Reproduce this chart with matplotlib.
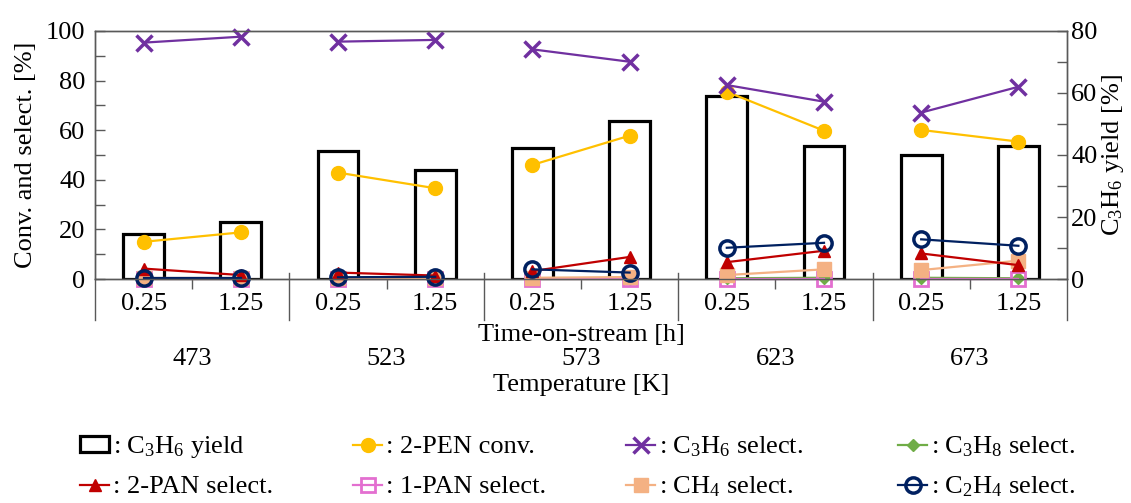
import numpy as np
import matplotlib
matplotlib.use("Agg")
import matplotlib.pyplot as plt
import matplotlib.transforms as mtransforms
from matplotlib.lines import Line2D
from matplotlib.patches import Rectangle

plt.rcParams['font.family'] = ['Liberation Serif', 'DejaVu Serif']
plt.rcParams['mathtext.fontset'] = 'custom'
plt.rcParams['mathtext.rm'] = 'Liberation Serif'
plt.rcParams['mathtext.default'] = 'rm'

# ---- data ----
temps = ["473", "523", "573", "623", "673"]
tos = ["0.25", "1.25"]
c3h6_yield = [14.5, 18.4, 41.4, 35.3, 42.4, 51.0, 59.1, 42.9, 40.1, 43.0]
pen_conv = [15.0, 18.8, 42.9, 36.6, 46.0, 57.8, 75.5, 59.8, 60.1, 55.4]
c3h6_sel = [95.3, 97.7, 95.7, 96.4, 92.6, 87.6, 78.2, 71.5, 67.1, 77.5]
c3h8_sel = [0.0, 0.0, 0.0, 0.0, 0.0, 0.0, 0.3, 0.5, 0.5, 0.3]
pan2_sel = [4.2, 1.6, 2.6, 1.4, 3.2, 8.9, 6.8, 11.4, 10.3, 5.6]
pan1_sel = [0.0, 0.0, 0.0, 0.0, 0.0, 0.0, 0.0, 0.0, 0.0, 0.0]
ch4_sel = [0.3, 0.3, 0.3, 0.3, 0.5, 0.8, 1.6, 3.9, 3.6, 7.4]
c2h4_sel = [0.3, 0.3, 0.7, 0.9, 3.9, 2.6, 12.6, 14.6, 16.0, 13.4]

FS = 19
SPINE = '#595959'

fig = plt.figure(figsize=(11.31, 5.03), dpi=100)
ax = fig.add_axes([0.084, 0.4453, 0.8594, 0.4931])
ax2 = ax.twinx()
ax.set_zorder(ax2.get_zorder() + 1)
ax.patch.set_visible(False)

n = len(temps) * len(tos)
x = np.arange(n)
xlabels = [t for _ in temps for t in tos]

# bars on right axis
ax2.bar(x, c3h6_yield, width=0.42, facecolor='white', edgecolor='black', linewidth=2.3, zorder=2)
ax2.set_ylim(0, 80)
ax.set_ylim(0, 100)
ax.set_xlim(-0.5, n - 0.5)

series = [
    (pen_conv, dict(color='#FFC000', marker='o', ms=10, mfc='#FFC000', mec='#FFC000', lw=1.6), ': 2-PEN conv.'),
    (c3h6_sel, dict(color='#7030A0', marker='x', ms=12, mew=2.5, lw=1.6), ': C$_3$H$_6$ select.'),
    (c3h8_sel, dict(color='#70AD47', marker='D', ms=6, lw=1.6), ': C$_3$H$_8$ select.'),
    (pan1_sel, dict(color='#E36FD0', marker='s', ms=10, mfc='none', mew=2, lw=1.6), ': 1-PAN select.'),
    (ch4_sel, dict(color='#F4B183', marker='s', ms=10, lw=1.6), ': CH$_4$ select.'),
    (pan2_sel, dict(color='#C00000', marker='^', ms=9, lw=1.6), ': 2-PAN select.'),
    (c2h4_sel, dict(color='#002060', marker='o', ms=11, mfc='none', mew=2.5, lw=1.6), ': C$_2$H$_4$ select.'),
]
handles = {}
for vals, st, lab in series:
    for g in range(len(temps)):
        sl = slice(2 * g, 2 * g + 2)
        ax.plot(x[sl], np.array(vals)[sl], clip_on=False, **st)
    handles[lab] = Line2D([], [], **st)

# ticks
ax.set_yticks(np.arange(0, 101, 20))
ax.set_yticks(np.arange(0, 101, 10), minor=True)
ax2.set_yticks(np.arange(0, 81, 20))
ax2.set_yticks(np.arange(0, 81, 10), minor=True)
ax.tick_params(axis='y', which='both', direction='in', length=7, width=1, color=SPINE, labelsize=FS, pad=7)
ax2.tick_params(axis='y', which='both', direction='in', length=7, width=1, color=SPINE, labelsize=FS, pad=3)
ax.set_xticks(x)
ax.set_xticklabels(xlabels)
ax.set_xticks(np.arange(0.5, n, 2), minor=True)
ax.tick_params(axis='x', which='major', length=0, labelsize=FS, pad=10)
ax.tick_params(axis='x', which='minor', direction='out', length=7, width=1, color=SPINE)
ax2.tick_params(axis='x', length=0)

for a in (ax, ax2):
    for s in a.spines.values():
        s.set_color(SPINE)
        s.set_linewidth(1)

# group separators and extended side spines
trans = ax.get_xaxis_transform()
for b in np.arange(1.5, n - 1, 2):
    ax.plot([b, b], [0.024, -0.165], transform=trans, color=SPINE, lw=1, clip_on=False)
for xx in (0, 1):
    ax.plot([xx, xx], [0, -0.165], transform=ax.transAxes, color=SPINE, lw=1, clip_on=False)

ax.set_ylabel('Conv. and select. [%]', fontsize=FS, labelpad=6)
ax2.set_ylabel('C$_3$H$_6$ yield [%]', fontsize=FS, labelpad=2)

# lower labels
xc = 0.5137
fig.text(xc, 1 - 335 / 503, 'Time-on-stream [h]', fontsize=FS, ha='center', va='center')
tblend = mtransforms.blended_transform_factory(ax.transData, fig.transFigure)
for g, t in enumerate(temps):
    fig.text(2 * g + 0.5, 1 - 359 / 503, t, fontsize=FS, ha='center', va='center', transform=tblend)
fig.text(xc, 1 - 385 / 503, 'Temperature [K]', fontsize=FS, ha='center', va='center')

# legend: four columns of two rows, each entry placed on its own row
bar_h = Rectangle((0, 0), 1, 1, facecolor='white', edgecolor='black', linewidth=2.3)
col_x = [80, 353, 626, 898]
row_y = [447, 487]
grid = [
    [(bar_h, ': C$_3$H$_6$ yield'), (handles[': 2-PAN select.'], ': 2-PAN select.')],
    [(handles[': 2-PEN conv.'], ': 2-PEN conv.'), (handles[': 1-PAN select.'], ': 1-PAN select.')],
    [(handles[': C$_3$H$_6$ select.'], ': C$_3$H$_6$ select.'), (handles[': CH$_4$ select.'], ': CH$_4$ select.')],
    [(handles[': C$_3$H$_8$ select.'], ': C$_3$H$_8$ select.'), (handles[': C$_2$H$_4$ select.'], ': C$_2$H$_4$ select.')],
]
for px, items in zip(col_x, grid):
    for py, (h, lab) in zip(row_y, items):
        fig.legend([h], [lab], loc='center left',
                   bbox_to_anchor=(px / 1131, 1 - py / 503), frameon=False, fontsize=FS,
                   handlelength=1.1, handleheight=0.55, handletextpad=0.15,
                   borderpad=0, borderaxespad=0)

fig.savefig('out.png', dpi=100)
